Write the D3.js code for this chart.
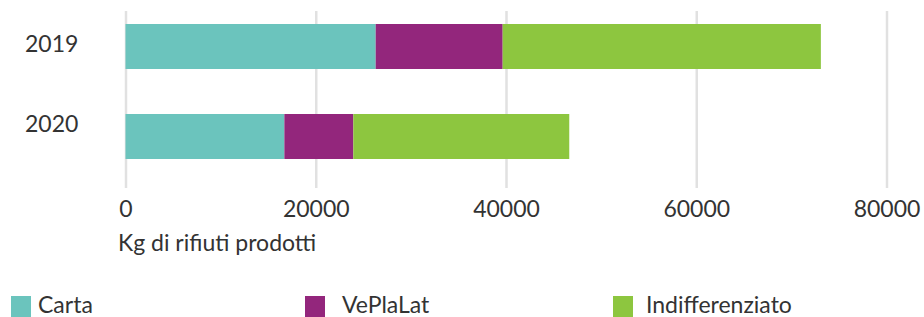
<!DOCTYPE html>
<html>
<head>
<meta charset="utf-8">
<script src="https://cdn.jsdelivr.net/npm/d3@7"></script>
<style>
  html, body { margin: 0; padding: 0; background: #fff; }
  svg { display: block; }
  text { font-family: Lato, "Open Sans", sans-serif; fill: #333; }
</style>
</head>
<body>
<svg id="chart" width="924" height="317"></svg>
<script>
// ---- data ----
const years = ["2019", "2020"];
const seriesNames = ["Carta", "VePlaLat", "Indifferenziato"];
const carta = [26300, 16700];
const veplalat = [13350, 7250];
const indifferenziato = [33450, 22700];
const xTicks = [0, 20000, 40000, 60000, 80000];
const axisTitle = "Kg di rifiuti prodotti";

// ---- style / layout ----
const colors = ["#6bc4bd", "#93267c", "#8dc63f"];
const W = 924, H = 317;
const fontSize = 23;

const svg = d3.select("#chart");

const rows = years.map((y, i) => ({
  year: y,
  Carta: carta[i],
  VePlaLat: veplalat[i],
  Indifferenziato: indifferenziato[i]
}));
const stacked = d3.stack().keys(seriesNames)(rows);

const x = d3.scaleLinear().domain([0, 80000]).range([125.5, 886.5]);
const y = d3.scaleBand().domain(years).range([1.5, 181.5])
  .paddingInner(0.5).paddingOuter(0.25);
const yLabel = d3.scalePoint().domain(years).range([44, 123.5]);
const color = d3.scaleOrdinal().domain(seriesNames).range(colors);

// gridlines + tick labels via axis
const gridTop = 11, gridBottom = 188;
const axis = d3.axisBottom(x).tickValues(xTicks).tickFormat(d3.format("d"))
  .tickSize(-(gridBottom - gridTop)).tickPadding(0);
const gAxis = svg.append("g").attr("transform", `translate(0,${gridBottom})`).call(axis);
gAxis.select(".domain").remove();
gAxis.selectAll(".tick line").attr("stroke", "#e1e1e1").attr("stroke-width", 2.5);
gAxis.selectAll(".tick text")
  .attr("y", 217 - gridBottom).attr("dy", 0)
  .attr("fill", "#333")
  .style("font-family", "Lato, 'Open Sans', sans-serif")
  .style("font-size", fontSize + "px");
gAxis.attr("font-size", null).attr("font-family", null);

// bars
svg.append("g").selectAll("g").data(stacked).join("g")
  .attr("fill", d => color(d.key))
  .selectAll("rect").data(d => d).join("rect")
  .attr("x", d => x(d[0]))
  .attr("width", d => x(d[1]) - x(d[0]))
  .attr("y", d => y(d.data.year))
  .attr("height", y.bandwidth());

// year labels
svg.append("g").selectAll("text").data(years).join("text")
  .attr("x", 25)
  .attr("y", d => yLabel(d))
  .attr("dy", "0.35em")
  .style("font-size", fontSize + "px")
  .text(d => d);

// axis title
svg.append("text")
  .attr("x", 118).attr("y", 251)
  .style("font-size", fontSize + "px")
  .text(axisTitle);

// legend
const legendX = [11, 305, 613];
const legendTextX = [38, 342, 646];
const legend = svg.append("g").selectAll("g").data(seriesNames).join("g");
legend.append("rect")
  .attr("x", (d, i) => legendX[i]).attr("y", 296)
  .attr("width", 20).attr("height", 21)
  .attr("fill", d => color(d));
legend.append("text")
  .attr("x", (d, i) => legendTextX[i]).attr("y", 313)
  .style("font-size", fontSize + "px")
  .text(d => d);
</script>
</body>
</html>
